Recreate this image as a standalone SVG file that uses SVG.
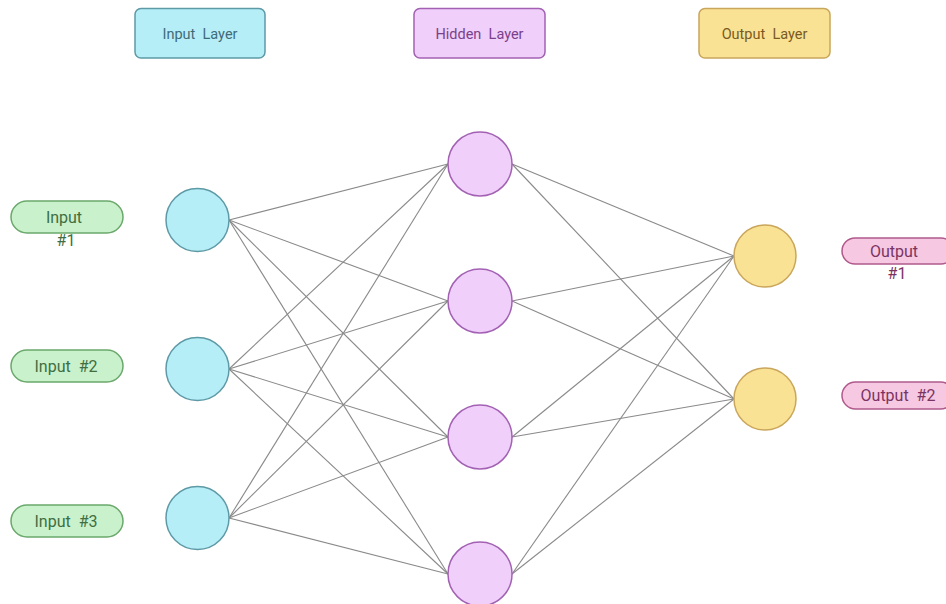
<svg xmlns="http://www.w3.org/2000/svg" width="946" height="604" viewBox="0 0 946 604">
  <style>
    text { font-family: Roboto, "Liberation Sans", sans-serif; text-anchor: middle; dominant-baseline: central; white-space: pre; }
    .hdr { font-size: 14.5px; }
    .lbl { font-size: 16px; }
    .in { fill: #b6eef8; stroke: #5e9aa6; stroke-width: 1.5; }
    .hid { fill: #f0cffa; stroke: #a261b2; stroke-width: 1.5; }
    .out { fill: #f9e293; stroke: #c9a65c; stroke-width: 1.5; }
    .t-in { fill: #3f6b78; }
    .t-hid { fill: #7b3f8c; }
    .t-out { fill: #7a5a22; }
    .pill-in { fill: #c9f1cb; stroke: #6aa86c; stroke-width: 1.5; }
    .pill-out { fill: #f6c8e2; stroke: #b0598c; stroke-width: 1.5; }
    .t-pin { fill: #3f6e42; }
    .t-pout { fill: #7b3462; }
    .edge { stroke: #8a8a8a; stroke-width: 1.1; fill: none; }
  </style>

  <!-- layer headers -->
  <g id="hdr-input">
    <rect class="in" x="135" y="8.5" width="130" height="49.5" rx="6"/>
    <text class="hdr t-in" x="200" y="34">Input  Layer</text>
  </g>
  <g id="hdr-hidden">
    <rect class="hid" x="414" y="8.5" width="131" height="49.5" rx="6"/>
    <text class="hdr t-hid" x="479.5" y="34">Hidden  Layer</text>
  </g>
  <g id="hdr-output">
    <rect class="out" x="699" y="8.5" width="131" height="49.5" rx="6"/>
    <text class="hdr t-out" x="764.5" y="34">Output  Layer</text>
  </g>

  <!-- connectors -->
  <g id="connectors">
    <!-- input 1 -->
    <line class="edge" x1="229" y1="220" x2="448" y2="164"/>
    <line class="edge" x1="229" y1="220" x2="448" y2="301"/>
    <line class="edge" x1="229" y1="220" x2="448" y2="437"/>
    <line class="edge" x1="229" y1="220" x2="448" y2="574"/>
    <!-- input 2 -->
    <line class="edge" x1="229" y1="369" x2="448" y2="164"/>
    <line class="edge" x1="229" y1="369" x2="448" y2="301"/>
    <line class="edge" x1="229" y1="369" x2="448" y2="437"/>
    <line class="edge" x1="229" y1="369" x2="448" y2="574"/>
    <!-- input 3 -->
    <line class="edge" x1="229" y1="518" x2="448" y2="164"/>
    <line class="edge" x1="229" y1="518" x2="448" y2="301"/>
    <line class="edge" x1="229" y1="518" x2="448" y2="437"/>
    <line class="edge" x1="229" y1="518" x2="448" y2="574"/>
    <!-- hidden to output -->
    <line class="edge" x1="512" y1="164" x2="734" y2="256"/>
    <line class="edge" x1="512" y1="164" x2="734" y2="399"/>
    <line class="edge" x1="512" y1="301" x2="734" y2="256"/>
    <line class="edge" x1="512" y1="301" x2="734" y2="399"/>
    <line class="edge" x1="512" y1="437" x2="734" y2="256"/>
    <line class="edge" x1="512" y1="437" x2="734" y2="399"/>
    <line class="edge" x1="512" y1="574" x2="734" y2="256"/>
    <line class="edge" x1="512" y1="574" x2="734" y2="399"/>
  </g>

  <!-- input neurons -->
  <g id="in1"><circle class="in" cx="197.5" cy="220" r="31.5"/></g>
  <g id="in2"><circle class="in" cx="197.5" cy="369" r="31.5"/></g>
  <g id="in3"><circle class="in" cx="197.5" cy="518" r="31.5"/></g>

  <!-- hidden neurons -->
  <g id="h1"><circle class="hid" cx="480" cy="164" r="32"/></g>
  <g id="h2"><circle class="hid" cx="480" cy="301" r="32"/></g>
  <g id="h3"><circle class="hid" cx="480" cy="437" r="32"/></g>
  <g id="h4"><circle class="hid" cx="480" cy="574" r="32"/></g>

  <!-- output neurons -->
  <g id="o1"><circle class="out" cx="765" cy="256" r="31"/></g>
  <g id="o2"><circle class="out" cx="765" cy="399" r="31"/></g>

  <!-- input labels -->
  <g id="lbl-in1">
    <rect class="pill-in" x="11" y="201" width="112" height="32" rx="16"/>
    <text class="lbl t-pin" x="64" y="217.5">Input</text>
    <text class="lbl t-pin" x="66" y="240">#1</text>
  </g>
  <g id="lbl-in2">
    <rect class="pill-in" x="11" y="350" width="112" height="32" rx="16"/>
    <text class="lbl t-pin" x="66" y="366.5">Input  #2</text>
  </g>
  <g id="lbl-in3">
    <rect class="pill-in" x="11" y="505" width="112" height="32" rx="16"/>
    <text class="lbl t-pin" x="66" y="521.5">Input  #3</text>
  </g>

  <!-- output labels -->
  <g id="lbl-out1">
    <rect class="pill-out" x="842" y="238" width="112" height="26" rx="13"/>
    <text class="lbl t-pout" x="894" y="251">Output</text>
    <text class="lbl t-pout" x="897" y="273">#1</text>
  </g>
  <g id="lbl-out2">
    <rect class="pill-out" x="842" y="382" width="112" height="27" rx="13.5"/>
    <text class="lbl t-pout" x="898" y="395.5">Output  #2</text>
  </g>
</svg>
